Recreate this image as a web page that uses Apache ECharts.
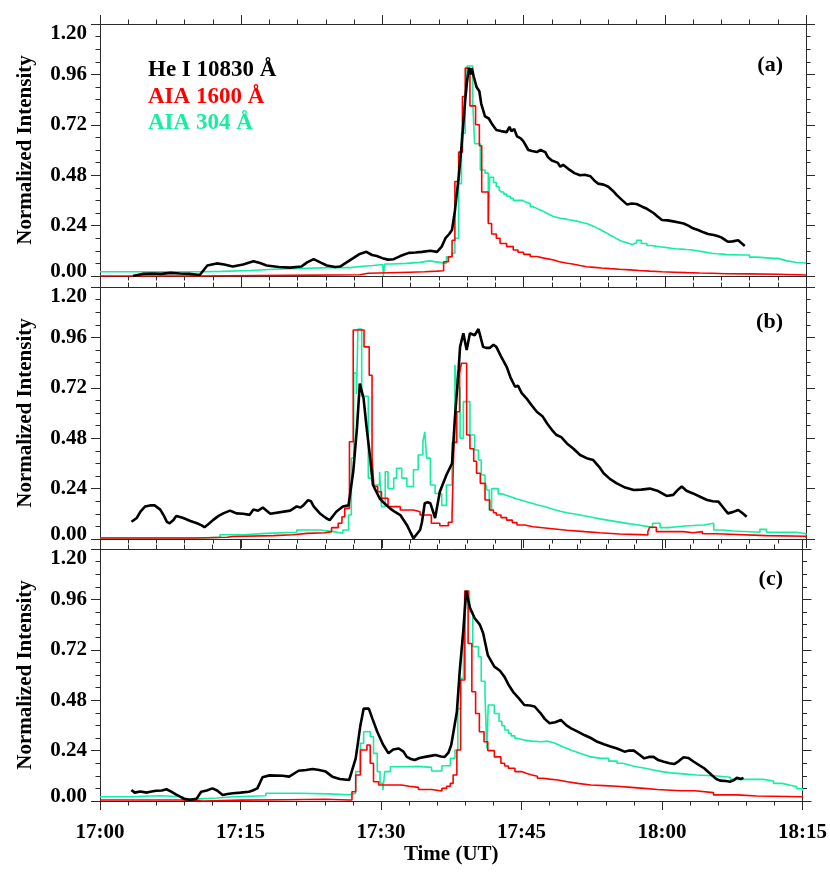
<!DOCTYPE html>
<html>
<head>
<meta charset="utf-8">
<title>Normalized light curves</title>
<script src="https://cdn.jsdelivr.net/npm/echarts/dist/echarts.min.js"></script>
<style>
  html, body { margin: 0; padding: 0; background: #fff; }
  #chart { width: 830px; height: 877px; }
</style>
</head>
<body>
<div id="chart"></div>
<script>
// time in minutes after 17:00 UT, value = normalized intensity
const timeLabels = ['17:00', '17:15', '17:30', '17:45', '18:00', '18:15']
const yTickLabels = ['0.00', '0.24', '0.48', '0.72', '0.96', '1.20']
const seriesNames = ['He I 10830 Å', 'AIA 1600 Å', 'AIA 304 Å']
const seriesColors = ['#000000', '#ff0000', '#14eea0']
const panelLabels = ['(a)', '(b)', '(c)']

// panel (a)
const heA = [[3.5,0.00],[4.5,0.01],[5.5,0.012],[6.5,0.01],[7.5,0.015],[8.5,0.012],[9.5,0.01],[10.6,0.005],[11.4,0.05],[12.4,0.06],[13.2,0.055],[14.1,0.045],[15.2,0.055],[16.3,0.07],[17.0,0.062],[17.7,0.05],[19.0,0.043],[20.2,0.04],[21.4,0.045],[22.0,0.065],[22.7,0.08],[23.4,0.065],[24.1,0.05],[25.0,0.043],[25.5,0.045],[26.2,0.065],[26.9,0.085],[27.6,0.105],[28.3,0.115],[28.9,0.10],[29.4,0.095],[30.0,0.085],[30.6,0.078],[31.2,0.08],[31.9,0.095],[32.8,0.11],[33.5,0.112],[34.2,0.115],[35.1,0.12],[35.8,0.115],[36.3,0.14],[36.7,0.18],[37.1,0.2],[37.4,0.22],[37.7,0.31],[38.1,0.47],[38.4,0.615],[38.8,0.84],[39.0,0.93],[39.2,0.99],[39.4,0.96],[39.5,0.99],[39.7,0.95],[40.0,0.90],[40.3,0.88],[40.5,0.82],[40.9,0.76],[41.3,0.75],[41.7,0.72],[42.1,0.695],[42.6,0.69],[43.2,0.685],[43.5,0.71],[43.7,0.69],[44.0,0.70],[44.3,0.665],[44.7,0.655],[45.0,0.64],[45.5,0.60],[45.9,0.595],[46.4,0.59],[46.8,0.6],[47.3,0.59],[47.6,0.565],[48.0,0.55],[48.6,0.54],[48.9,0.52],[49.2,0.53],[49.9,0.505],[50.4,0.49],[51.0,0.48],[51.5,0.482],[52.1,0.475],[52.5,0.455],[52.9,0.44],[53.5,0.435],[54.0,0.425],[54.5,0.405],[54.9,0.385],[55.5,0.36],[56.0,0.34],[56.5,0.345],[57.0,0.343],[57.6,0.33],[58.1,0.32],[58.8,0.30],[59.2,0.285],[59.7,0.267],[60.3,0.265],[60.9,0.26],[61.5,0.255],[62.0,0.25],[62.5,0.24],[63.0,0.227],[63.6,0.218],[64.1,0.208],[64.6,0.2],[65.2,0.195],[65.6,0.19],[66.0,0.184],[66.4,0.172],[66.7,0.163],[67.2,0.165],[67.8,0.17],[68.1,0.158],[68.5,0.143]]
const uv1600A = [[0,0.0],[10,0.003],[20,0.006],[27.6,0.013],[28.5,0.018],[32.9,0.02],[34.5,0.023],[35.8,0.025],[36.5,0.068],[37.0,0.092],[37.4,0.17],[37.7,0.45],[38.1,0.59],[38.5,0.855],[38.8,0.99],[39.3,0.81],[39.9,0.72],[40.3,0.62],[40.55,0.40],[41.25,0.25],[41.6,0.20],[42.1,0.18],[42.5,0.155],[43.2,0.14],[43.9,0.124],[44.4,0.113],[45.0,0.103],[45.7,0.093],[46.4,0.084],[47.3,0.076],[48.2,0.068],[48.8,0.062],[49.5,0.057],[50.2,0.05],[51.0,0.044],[51.7,0.041],[52.5,0.038],[53.3,0.035],[54.2,0.032],[55.2,0.029],[56.3,0.026],[57.3,0.023],[58.4,0.02],[59.7,0.018],[61,0.016],[62.3,0.014],[63.7,0.013],[65.0,0.011],[66.5,0.01],[69.0,0.008],[72,0.005],[75,0.003]]
const euv304A = [[0,0.02],[5,0.02],[10.6,0.022],[13,0.026],[16,0.032],[18.5,0.036],[21.2,0.04],[24.4,0.04],[26.6,0.045],[27.6,0.05],[29,0.055],[30.05,0.045],[30.1,0.0],[30.25,0.057],[31.0,0.06],[32.5,0.065],[34.0,0.072],[35.0,0.065],[36.1,0.06],[36.8,0.092],[37.4,0.108],[37.7,0.18],[38.1,0.44],[38.4,0.68],[38.8,0.90],[39.0,1.0],[39.6,0.82],[39.8,0.63],[40.4,0.505],[40.9,0.49],[41.25,0.26],[41.4,0.47],[41.8,0.445],[42.1,0.425],[42.4,0.41],[42.6,0.40],[42.9,0.39],[43.2,0.38],[43.6,0.37],[43.9,0.36],[44.6,0.36],[44.9,0.352],[45.2,0.345],[45.7,0.33],[46.0,0.322],[46.4,0.315],[46.7,0.308],[47.1,0.30],[47.4,0.292],[47.8,0.285],[48.1,0.28],[48.5,0.275],[48.9,0.272],[49.4,0.268],[49.8,0.264],[50.3,0.26],[50.8,0.255],[51.2,0.25],[51.7,0.243],[52.1,0.235],[52.5,0.228],[52.8,0.22],[53.2,0.212],[53.5,0.203],[53.9,0.194],[54.2,0.185],[54.6,0.177],[54.9,0.17],[55.2,0.164],[55.5,0.158],[56.0,0.15],[56.5,0.158],[57.0,0.17],[57.5,0.155],[58.1,0.145],[58.6,0.141],[59.1,0.138],[59.7,0.135],[60.2,0.132],[60.7,0.13],[61.2,0.128],[61.8,0.126],[62.3,0.124],[62.9,0.12],[63.4,0.116],[64.0,0.112],[64.5,0.108],[65.0,0.106],[65.5,0.104],[66.1,0.102],[66.6,0.10],[68.3,0.10],[69.0,0.09],[69.8,0.084],[71.5,0.084],[72.0,0.078],[72.5,0.072],[73,0.064],[74,0.062],[75,0.06]]

// panel (b)
const heB = [[3.35,0.082],[3.9,0.10],[4.3,0.13],[4.8,0.155],[5.3,0.16],[5.8,0.16],[6.4,0.14],[6.8,0.11],[7.1,0.082],[7.4,0.075],[7.8,0.09],[8.1,0.11],[8.5,0.105],[8.85,0.10],[9.6,0.086],[10.3,0.075],[10.8,0.065],[11.1,0.056],[11.5,0.07],[12.0,0.09],[12.6,0.11],[13.1,0.122],[13.8,0.135],[14.1,0.13],[14.5,0.122],[15.2,0.12],[15.9,0.115],[16.3,0.14],[16.8,0.135],[17.3,0.15],[17.7,0.135],[18.1,0.12],[20.2,0.135],[20.9,0.155],[21.3,0.15],[21.6,0.16],[22.1,0.185],[22.4,0.18],[22.7,0.155],[23.4,0.12],[24.0,0.1],[24.4,0.09],[25.1,0.13],[25.8,0.155],[26.4,0.16],[26.9,0.32],[27.3,0.53],[27.6,0.74],[28.0,0.67],[28.3,0.54],[28.7,0.385],[29.0,0.257],[29.7,0.194],[30.2,0.17],[30.8,0.146],[31.3,0.13],[31.9,0.114],[32.6,0.067],[33.0,0.03],[33.3,0.003],[33.6,0.02],[34.0,0.043],[34.2,0.08],[34.5,0.17],[34.8,0.175],[35.1,0.17],[35.6,0.10],[36.1,0.225],[36.8,0.305],[37.4,0.36],[37.7,0.575],[38.1,0.81],[38.25,0.915],[38.6,0.98],[38.95,0.90],[39.3,0.98],[39.8,0.97],[40.2,1.0],[40.7,0.915],[41.0,0.91],[41.4,0.91],[41.8,0.925],[42.1,0.915],[42.6,0.87],[43.2,0.82],[43.6,0.77],[44.1,0.725],[44.4,0.73],[44.8,0.695],[45.3,0.67],[45.8,0.64],[46.4,0.606],[47.0,0.585],[47.5,0.55],[48.0,0.52],[48.5,0.495],[49.0,0.485],[49.6,0.455],[50.3,0.43],[51.0,0.40],[51.7,0.385],[52.4,0.376],[53.0,0.345],[53.5,0.313],[54.2,0.285],[54.9,0.265],[55.8,0.245],[56.7,0.233],[57.5,0.235],[58.4,0.24],[59.2,0.23],[60.2,0.205],[60.9,0.21],[61.4,0.235],[61.8,0.25],[62.3,0.23],[63.0,0.217],[63.8,0.2],[64.5,0.186],[65.1,0.18],[65.7,0.178],[66.2,0.15],[66.7,0.122],[67.2,0.128],[67.8,0.138],[68.2,0.125],[68.7,0.106]]
const uv1600B = [[0,0.005],[10,0.008],[13.5,0.012],[14.1,0.016],[18.4,0.02],[20.5,0.027],[22.0,0.03],[23.9,0.035],[24.6,0.054],[25.3,0.075],[25.7,0.106],[26.0,0.146],[26.5,0.463],[26.9,0.995],[28.05,0.915],[28.6,0.78],[28.9,0.385],[29.1,0.25],[29.5,0.225],[29.9,0.194],[30.6,0.154],[31.9,0.138],[33.3,0.13],[34.0,0.114],[35.2,0.075],[36.1,0.063],[37.0,0.08],[37.4,0.114],[37.6,0.46],[37.9,0.606],[38.2,0.79],[38.4,0.837],[38.95,0.495],[39.3,0.43],[39.7,0.37],[40.0,0.313],[40.4,0.265],[40.9,0.186],[41.4,0.138],[41.8,0.125],[42.1,0.114],[42.6,0.102],[43.2,0.09],[43.8,0.078],[44.3,0.067],[45.1,0.058],[46.0,0.05],[47.8,0.042],[49.6,0.035],[51.5,0.03],[53.1,0.024],[55.2,0.021],[57.4,0.019],[58.2,0.035],[58.4,0.056],[59.1,0.035],[62.0,0.03],[63.0,0.035],[64.0,0.025],[65.5,0.016],[70.8,0.013],[75,0.006]]
const euv304B = [[0,0.005],[11,0.008],[12.75,0.02],[15.2,0.027],[17.7,0.032],[20.9,0.043],[23.4,0.035],[24.8,0.027],[25.8,0.043],[26.4,0.114],[26.7,0.385],[26.95,0.79],[27.25,0.69],[27.4,1.0],[27.8,0.68],[28.5,0.29],[29.0,0.257],[29.7,0.32],[29.9,0.154],[30.3,0.32],[30.6,0.24],[31.2,0.29],[31.5,0.337],[32.05,0.29],[32.6,0.25],[33.3,0.33],[33.8,0.40],[34.3,0.463],[34.5,0.51],[34.7,0.385],[35.1,0.257],[35.6,0.217],[36.3,0.16],[36.8,0.257],[37.4,0.46],[37.7,0.83],[37.9,0.72],[38.25,0.48],[38.6,0.654],[39.3,0.495],[39.8,0.424],[40.2,0.376],[40.5,0.305],[40.9,0.28],[41.1,0.233],[41.35,0.138],[41.6,0.24],[42.3,0.215],[42.7,0.207],[43.2,0.20],[43.7,0.192],[44.2,0.185],[44.8,0.177],[45.3,0.17],[45.9,0.162],[46.5,0.155],[47.2,0.146],[47.8,0.138],[48.4,0.131],[49.0,0.125],[49.6,0.12],[50.3,0.114],[51.0,0.108],[51.7,0.102],[52.4,0.096],[53.1,0.09],[53.9,0.084],[54.7,0.078],[55.5,0.072],[56.3,0.067],[57.2,0.06],[58.1,0.054],[58.7,0.075],[59.5,0.054],[60.4,0.058],[61.3,0.062],[62.2,0.064],[63.0,0.067],[64.1,0.075],[65.2,0.043],[66.2,0.038],[67.3,0.032],[70.1,0.046],[70.8,0.032],[72.9,0.032],[74,0.025],[75,0.019]]

// panel (c)
const heC = [[3.35,0.052],[3.7,0.04],[4.3,0.045],[5.0,0.04],[5.5,0.045],[6.0,0.049],[6.6,0.05],[7.1,0.056],[7.6,0.045],[8.1,0.032],[8.6,0.02],[9.0,0.01],[9.6,0.006],[10.3,0.01],[10.8,0.044],[11.4,0.05],[12.0,0.06],[12.5,0.05],[13.1,0.029],[13.6,0.033],[14.2,0.037],[15.0,0.04],[15.9,0.044],[16.3,0.05],[16.8,0.06],[17.35,0.113],[18.1,0.122],[19.5,0.12],[20.2,0.116],[21.2,0.144],[22.0,0.148],[22.7,0.152],[23.4,0.148],[24.1,0.14],[24.8,0.116],[25.6,0.105],[26.6,0.10],[27.3,0.203],[27.8,0.36],[28.15,0.44],[28.7,0.44],[29.1,0.39],[29.6,0.33],[30.2,0.27],[30.8,0.227],[31.3,0.245],[31.9,0.25],[32.4,0.235],[32.75,0.21],[33.2,0.2],[33.6,0.195],[34.1,0.205],[34.7,0.21],[35.3,0.215],[35.8,0.219],[36.4,0.212],[36.8,0.21],[37.2,0.23],[37.5,0.267],[38.1,0.425],[38.4,0.616],[38.8,0.82],[39.1,1.0],[39.5,0.92],[40.0,0.87],[40.55,0.84],[40.9,0.8],[41.4,0.695],[42.1,0.64],[42.7,0.62],[43.2,0.59],[43.6,0.555],[44.1,0.52],[44.7,0.49],[45.3,0.457],[45.9,0.455],[46.4,0.45],[47.0,0.42],[47.5,0.39],[48.0,0.37],[48.6,0.375],[49.2,0.386],[49.8,0.36],[50.3,0.346],[51.0,0.33],[51.7,0.314],[52.4,0.3],[53.1,0.282],[53.8,0.27],[54.5,0.26],[55.2,0.25],[56.0,0.235],[56.5,0.24],[57.0,0.24],[57.6,0.22],[58.1,0.203],[58.6,0.21],[59.1,0.21],[59.6,0.195],[60.2,0.187],[60.8,0.18],[61.3,0.176],[61.8,0.19],[62.3,0.208],[62.8,0.205],[63.4,0.187],[64.0,0.17],[64.5,0.156],[65.3,0.124],[65.8,0.105],[66.2,0.097],[66.8,0.095],[67.3,0.092],[67.7,0.1],[68.0,0.111],[68.4,0.105],[68.7,0.11]]
const uv1600C = [[0,0.005],[8.5,0.004],[9.5,0.0],[11,0.004],[15,0.006],[20,0.008],[24,0.005],[26.6,0.005],[26.9,0.044],[27.3,0.124],[27.8,0.243],[28.5,0.267],[28.85,0.18],[29.2,0.092],[29.75,0.076],[32.2,0.07],[33.0,0.065],[34.0,0.055],[35.4,0.048],[36.5,0.06],[37.0,0.07],[37.4,0.084],[37.7,0.124],[38.1,0.243],[38.5,0.576],[38.95,1.0],[39.3,0.75],[39.7,0.52],[40.1,0.417],[40.5,0.33],[41.0,0.282],[41.4,0.24],[42.1,0.21],[42.8,0.18],[43.2,0.167],[43.6,0.156],[44.3,0.14],[45.0,0.132],[45.5,0.125],[46.0,0.118],[46.7,0.108],[47.3,0.104],[48.0,0.1],[48.9,0.092],[49.9,0.084],[51.0,0.076],[52.4,0.073],[53.8,0.07],[55.2,0.065],[56.7,0.06],[58.1,0.055],[59.5,0.049],[62.0,0.049],[63.5,0.04],[65.5,0.029],[68,0.024],[70.1,0.02],[75,0.016]]
const euv304C = [[0,0.02],[3.2,0.025],[6.4,0.02],[8.85,0.01],[10.6,0.014],[12.5,0.02],[14.2,0.025],[17.7,0.037],[21.2,0.034],[24.4,0.03],[26.6,0.032],[26.9,0.037],[27.3,0.14],[27.8,0.275],[28.15,0.33],[28.85,0.306],[29.2,0.227],[29.6,0.14],[29.9,0.084],[30.2,0.052],[30.4,0.14],[31.0,0.163],[32.6,0.165],[34.0,0.16],[35.4,0.143],[36.5,0.168],[37.4,0.203],[37.9,0.243],[38.2,0.44],[38.5,0.584],[38.8,0.79],[38.95,1.0],[39.45,0.90],[39.8,0.735],[40.4,0.687],[40.7,0.57],[41.1,0.505],[41.3,0.25],[41.45,0.457],[42.1,0.417],[42.6,0.38],[42.9,0.358],[43.2,0.338],[43.6,0.322],[43.9,0.31],[44.3,0.298],[44.6,0.29],[45.3,0.285],[46.0,0.282],[47.1,0.285],[47.8,0.276],[48.5,0.267],[49.0,0.258],[49.4,0.25],[49.9,0.242],[50.3,0.235],[50.8,0.226],[51.3,0.218],[51.9,0.21],[52.4,0.203],[53.5,0.203],[54.3,0.19],[55.2,0.18],[55.8,0.174],[56.3,0.168],[56.8,0.162],[57.4,0.156],[58.2,0.148],[59.1,0.14],[60.0,0.134],[60.9,0.129],[62.3,0.124],[63.7,0.119],[65.9,0.113],[67.3,0.103],[69.8,0.103],[70.8,0.095],[71.9,0.084],[72.8,0.075],[73.7,0.068],[74.4,0.058],[75,0.049]]

const panels = [
  [heA, uv1600A, euv304A],
  [heB, uv1600B, euv304B],
  [heC, uv1600C, euv304C]
]

const FONT = "'Liberation Serif', 'Times New Roman', serif"
const AXIS_COLOR = '#2a2a2a'
const panelTops = [24, 287, 549]

const chart = echarts.init(document.getElementById('chart'), null, { renderer: 'canvas' })

function makeX(idx, pos, showLabels) {
  return {
    type: 'value', gridIndex: idx, position: pos,
    min: 0, max: 75, interval: 15,
    axisLine: { show: true, onZero: false, lineStyle: { color: AXIS_COLOR, width: 1 } },
    axisTick: { show: true, length: 9, lineStyle: { color: AXIS_COLOR } },
    minorTick: { show: true, splitNumber: 5, length: 4.5, lineStyle: { color: AXIS_COLOR } },
    splitLine: { show: false },
    axisLabel: {
      show: showLabels, margin: 21, color: '#000',
      fontFamily: FONT, fontWeight: 'bold', fontSize: 21,
      formatter: v => timeLabels[Math.round(v / 15)]
    },
    name: showLabels ? 'Time (UT)' : '',
    nameLocation: 'middle', nameGap: 43,
    nameTextStyle: { color: '#000', fontFamily: FONT, fontWeight: 'bold', fontSize: 21 }
  }
}

// end labels sit slightly inside the panel, as in the original
const labelFont = { fontFamily: FONT, fontWeight: 'bold', fontSize: 21, color: '#000' }

function makeY(idx, pos, showLabels) {
  return {
    type: 'value', gridIndex: idx, position: pos,
    min: 0, max: 1.2, interval: 0.24,
    axisLine: { show: true, onZero: false, lineStyle: { color: AXIS_COLOR, width: 1 } },
    axisTick: { show: true, length: 9, lineStyle: { color: AXIS_COLOR } },
    minorTick: { show: true, splitNumber: 4, length: 4.5, lineStyle: { color: AXIS_COLOR } },
    splitLine: { show: false },
    axisLabel: {
      show: showLabels, margin: 13, ...labelFont,
      formatter: v => {
        const i = Math.round(v / 0.24)
        const lab = yTickLabels[i]
        if (i === 0) return `{lo|${lab}}`
        if (i === yTickLabels.length - 1) return `{hi|${lab}}`
        return lab
      },
      rich: {
        lo: { ...labelFont, padding: [0, 0, 8, 0] },
        hi: { ...labelFont, padding: [20, 0, 0, 0] }
      }
    },
    name: showLabels ? 'Normalized Intensity' : '',
    nameLocation: 'middle', nameGap: 64,
    nameTextStyle: { color: '#000', fontFamily: FONT, fontWeight: 'bold', fontSize: 21 }
  }
}

const grid = [], xAxis = [], yAxis = [], series = []
panelTops.forEach((top, i) => {
  grid.push({ left: 100, right: 24, top: top, height: 252 })
  xAxis.push(makeX(i, 'bottom', i === 2), makeX(i, 'top', false))
  yAxis.push(makeY(i, 'left', true), makeY(i, 'right', false))
  // draw 304 first, then 1600, He I on top
  ;[2, 1, 0].forEach(k => {
    series.push({
      name: seriesNames[k],
      type: 'line',
      xAxisIndex: 2 * i,
      yAxisIndex: 2 * i,
      data: panels[i][k],
      step: k === 0 ? false : 'end',
      showSymbol: false,
      symbol: 'none',
      lineStyle: { color: seriesColors[k], width: k === 0 ? 2.6 : 1.6 },
      z: 3 - k
    })
  })
})

const labelTops = [54, 311, 568]
const graphic = []
seriesNames.forEach((name, k) => {
  graphic.push({
    type: 'text', left: 148, top: 59 + k * 26.3,
    style: { text: name, fill: seriesColors[k], font: `bold 23px ${FONT}` }
  })
})
panelLabels.forEach((lab, i) => {
  graphic.push({
    type: 'text', right: 47, top: labelTops[i],
    style: { text: lab, fill: '#000', font: `bold 22px ${FONT}` }
  })
})

chart.setOption({
  animation: false,
  backgroundColor: '#fff',
  grid, xAxis, yAxis, series, graphic
})
</script>
</body>
</html>
